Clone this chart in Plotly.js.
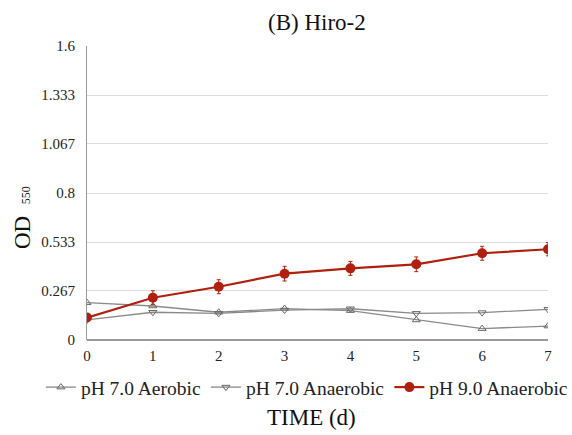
<!DOCTYPE html>
<html><head><meta charset="utf-8">
<script src="https://cdn.plot.ly/plotly-3.0.1.min.js"></script>
<style>html,body{margin:0;padding:0;background:#fff}#c{width:572px;height:435px}</style>
</head><body><div id="c"></div>
<script>
const days = [0,1,2,3,4,5,6,7];
const aerobic70 = [0.203,0.185,0.151,0.171,0.160,0.109,0.062,0.076];
const anaerobic70 = [0.109,0.151,0.145,0.163,0.170,0.145,0.149,0.167];
const anaerobic90 = [0.122,0.230,0.290,0.361,0.390,0.412,0.472,0.494];
const anaerobic90Err = [0.0,0.038,0.038,0.040,0.038,0.040,0.038,0.036];
const yTickVals = [0,0.267,0.533,0.8,1.067,1.333,1.6];
const yTickText = ['0','0.267','0.533','0.8','1.067','1.333','1.6'];
const names = ['pH 7.0 Aerobic','pH 7.0 Anaerobic','pH 9.0 Anaerobic'];

const serif = '"Liberation Serif", "Times New Roman", serif';
const traces = [
  {x: days, y: aerobic70, name: names[0], mode: 'lines+markers',
   line: {color: '#8a8a8a', width: 1.3},
   marker: {symbol: 'triangle-up-open', size: 7, color: '#666', line: {width: 1}}},
  {x: days, y: anaerobic70, name: names[1], mode: 'lines+markers',
   line: {color: '#8a8a8a', width: 1.3},
   marker: {symbol: 'triangle-down-open', size: 7, color: '#666', line: {width: 1}}},
  {x: days, y: anaerobic90, name: names[2], mode: 'lines+markers',
   line: {color: '#b0200f', width: 2.2},
   marker: {symbol: 'circle', size: 10, color: '#b0200f'},
   error_y: {type: 'data', array: anaerobic90Err, visible: true, color: '#b0200f', thickness: 1, width: 2}}
];
const layout = {
  width: 572, height: 435,
  margin: {l: 87, r: 24, t: 46, b: 95, autoexpand: false},
  paper_bgcolor: '#fff', plot_bgcolor: '#fff',
  font: {family: serif, color: '#222', size: 15},
  title: {text: '(B) Hiro-2', font: {family: serif, size: 23, color: '#111'}, x: 0.554, xanchor: 'center', y: 0.95, yanchor: 'middle'},
  xaxis: {range: [0, 7], tickvals: days, ticks: '', showgrid: false, zeroline: false,
          showline: false, tickfont: {family: serif, size: 15}, ticklabelstandoff: 5},
  yaxis: {range: [0, 1.6], tickvals: yTickVals, ticktext: yTickText, ticks: '',
          showgrid: true, gridcolor: '#dcdcdc', gridwidth: 1, zeroline: true, zerolinecolor: '#999', zerolinewidth: 1.5,
          showline: true, linecolor: '#999', linewidth: 1, tickfont: {family: serif, size: 15}, ticklabelstandoff: 8},
  showlegend: true,
  legend: {orientation: 'h', x: -0.1, xanchor: 'left', y: -0.095, yanchor: 'top',
           font: {family: serif, size: 19.5, color: '#222'}, traceorder: 'normal', itemwidth: 30},
  annotations: [
    {text: 'TIME (d)', xref: 'paper', yref: 'paper', x: 0.486, y: -0.215, yanchor: 'top',
     showarrow: false, font: {family: serif, size: 23, color: '#111'}},
    {text: 'OD\u00a0\u00a0<span style="font-size:12px">550</span>', xref: 'paper', yref: 'paper', x: -0.141, y: 0.418,
     xanchor: 'center', yanchor: 'middle', textangle: -90,
     showarrow: false, font: {family: serif, size: 23, color: '#111'}}
  ]
};
Plotly.newPlot('c', traces, layout, {displayModeBar: false, staticPlot: true});
</script></body></html>
